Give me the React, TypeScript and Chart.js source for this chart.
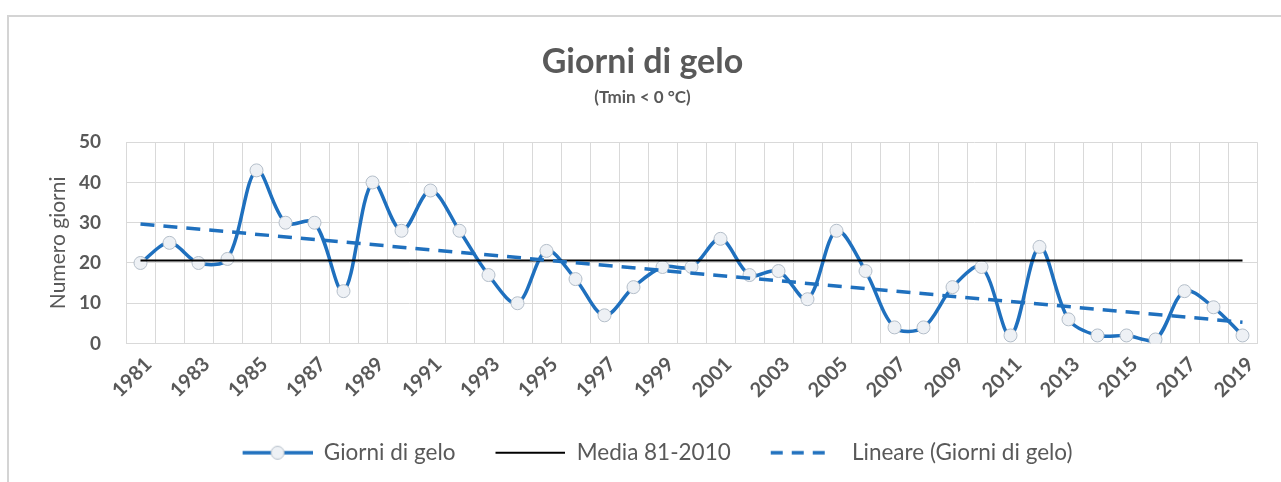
import React, { useEffect, useRef } from "react";
import { Chart, registerables } from "chart.js";

Chart.register(...registerables);

const years: string[] = [
  "1981", "1982", "1983", "1984", "1985", "1986", "1987", "1988", "1989", "1990",
  "1991", "1992", "1993", "1994", "1995", "1996", "1997", "1998", "1999", "2000",
  "2001", "2002", "2003", "2004", "2005", "2006", "2007", "2008", "2009", "2010",
  "2011", "2012", "2013", "2014", "2015", "2016", "2017", "2018", "2019",
];

const giorniGelo: number[] = [
  20, 25, 20, 21, 43, 30, 30, 13, 40, 28,
  38, 28, 17, 10, 23, 16, 7, 14, 19, 19,
  26, 17, 18, 11, 28, 18, 4, 4, 14, 19,
  2, 24, 6, 2, 2, 1, 13, 9, 2,
];

const media8110 = 20.6;
const trendStart = 29.7;
const trendEnd = 5.3;

const yTicks: number[] = [0, 10, 20, 30, 40, 50];

const BLUE = "#1f70be";
const GREY_TEXT = "#595959";
const FONT = "Lato, 'Open Sans', sans-serif";

function makeLegendIcon(kind: "marker" | "solid" | "dash"): HTMLCanvasElement {
  const c = document.createElement("canvas");
  c.width = 100;
  c.height = 16;
  const ctx = c.getContext("2d")!;
  const x0 = 30;
  const x1 = 100;
  const y = 8;
  ctx.lineCap = "butt";
  if (kind === "marker") {
    ctx.strokeStyle = BLUE;
    ctx.lineWidth = 3.5;
    ctx.beginPath();
    ctx.moveTo(x0, y);
    ctx.lineTo(x1, y);
    ctx.stroke();
    ctx.beginPath();
    ctx.arc((x0 + x1) / 2, y, 6.5, 0, Math.PI * 2);
    ctx.fillStyle = "#eef1f5";
    ctx.fill();
    ctx.strokeStyle = "#b4bec9";
    ctx.lineWidth = 1;
    ctx.stroke();
  } else if (kind === "solid") {
    ctx.strokeStyle = "#000000";
    ctx.lineWidth = 2;
    ctx.beginPath();
    ctx.moveTo(x0, y);
    ctx.lineTo(x1, y);
    ctx.stroke();
  } else {
    ctx.strokeStyle = BLUE;
    ctx.lineWidth = 3.5;
    ctx.setLineDash([12, 9]);
    ctx.beginPath();
    ctx.moveTo(x0, y);
    ctx.lineTo(x1 - 12, y);
    ctx.stroke();
  }
  return c;
}

export default function App() {
  const ref = useRef<HTMLCanvasElement | null>(null);

  useEffect(() => {
    if (!ref.current) return;
    const last = years.length - 1;
    const mediaData = years.map((_, i) => (i === 0 || i === last ? media8110 : null));
    const trendData = years.map((_, i) => (i === 0 ? trendStart : i === last ? trendEnd : null));
    const icons = [makeLegendIcon("marker"), makeLegendIcon("solid"), makeLegendIcon("dash")];

    const chart = new Chart(ref.current, {
      type: "line",
      data: {
        labels: years,
        datasets: [
          {
            label: "Giorni di gelo",
            data: giorniGelo,
            borderColor: BLUE,
            borderWidth: 3.5,
            tension: 0.33,
            pointRadius: 6.5,
            pointBackgroundColor: "#eef1f5",
            pointBorderColor: "#b4bec9",
            pointBorderWidth: 1,
            order: 2,
          },
          {
            label: "Media 81-2010",
            data: mediaData,
            borderColor: "#000000",
            borderWidth: 2,
            pointRadius: 0,
            spanGaps: true,
            order: 1,
          },
          {
            label: "Lineare (Giorni di gelo)",
            data: trendData,
            borderColor: BLUE,
            borderWidth: 3.5,
            borderDash: [14, 9],
            pointRadius: 0,
            spanGaps: true,
            order: 0,
          },
        ],
      },
      options: {
        responsive: false,
        animation: false,
        layout: { padding: { left: 28, right: 24, top: 20, bottom: 8 } },
        plugins: {
          tooltip: { enabled: false },
          title: {
            display: true,
            text: "Giorni di gelo",
            color: GREY_TEXT,
            font: { family: FONT, size: 34, weight: "bold" },
            padding: { top: 22, bottom: 0 },
          },
          subtitle: {
            display: true,
            text: "(Tmin < 0 °C)",
            color: GREY_TEXT,
            font: { family: FONT, size: 17, weight: "bold" },
            padding: { top: 5, bottom: 34 },
          },
          legend: {
            position: "bottom",
            labels: {
              usePointStyle: true,
              pointStyleWidth: 100,
              padding: 10,
              color: GREY_TEXT,
              font: { family: FONT, size: 22.5 },
              generateLabels: (ch: any) =>
                ch.data.datasets.map((ds: any, i: number) => ({
                  text: ds.label,
                  pointStyle: icons[i],
                  datasetIndex: i,
                  hidden: false,
                  fontColor: GREY_TEXT,
                  lineWidth: 0,
                  strokeStyle: "transparent",
                  fillStyle: "transparent",
                })),
            },
          },
        },
        scales: {
          x: {
            type: "category",
            offset: true,
            grid: { offset: true, color: "#d9d9d9", drawTicks: false },
            border: { color: "#d9d9d9" },
            ticks: {
              autoSkip: false,
              minRotation: 45,
              maxRotation: 45,
              padding: 9,
              labelOffset: 8,
              color: GREY_TEXT,
              font: { family: FONT, size: 20, weight: "bold" },
              callback: (_v: any, idx: number) => (idx % 2 === 0 ? years[idx] : ""),
            },
            afterFit: (scale: any) => {
              scale.height = 88;
            },
          },
          y: {
            min: 0,
            max: 50,
            afterBuildTicks: (scale: any) => {
              scale.ticks = yTicks.map((v) => ({ value: v }));
            },
            grid: { color: "#d9d9d9", drawTicks: false },
            border: { color: "#d9d9d9" },
            ticks: {
              padding: 25,
              color: GREY_TEXT,
              font: { family: FONT, size: 19, weight: "bold" },
            },
            title: {
              display: true,
              text: "Numero giorni",
              color: GREY_TEXT,
              font: { family: FONT, size: 21 },
              padding: { top: 18, bottom: 0 },
            },
            afterFit: (scale: any) => {
              scale.width = 98;
            },
          },
        },
      },
    });
    return () => chart.destroy();
  }, []);

  return (
    <div style={{ position: "absolute", left: 0, top: 0, width: 1281, height: 482, background: "#ffffff", overflow: "hidden" }}>
      <div
        style={{
          position: "absolute",
          left: 7,
          top: 15,
          width: 1300,
          height: 500,
          borderTop: "2px solid #d4d4d4",
          borderLeft: "2px solid #d4d4d4",
        }}
      />
      <canvas ref={ref} width={1281} height={482} style={{ position: "absolute", left: 0, top: 0, display: "block" }} />
    </div>
  );
}
